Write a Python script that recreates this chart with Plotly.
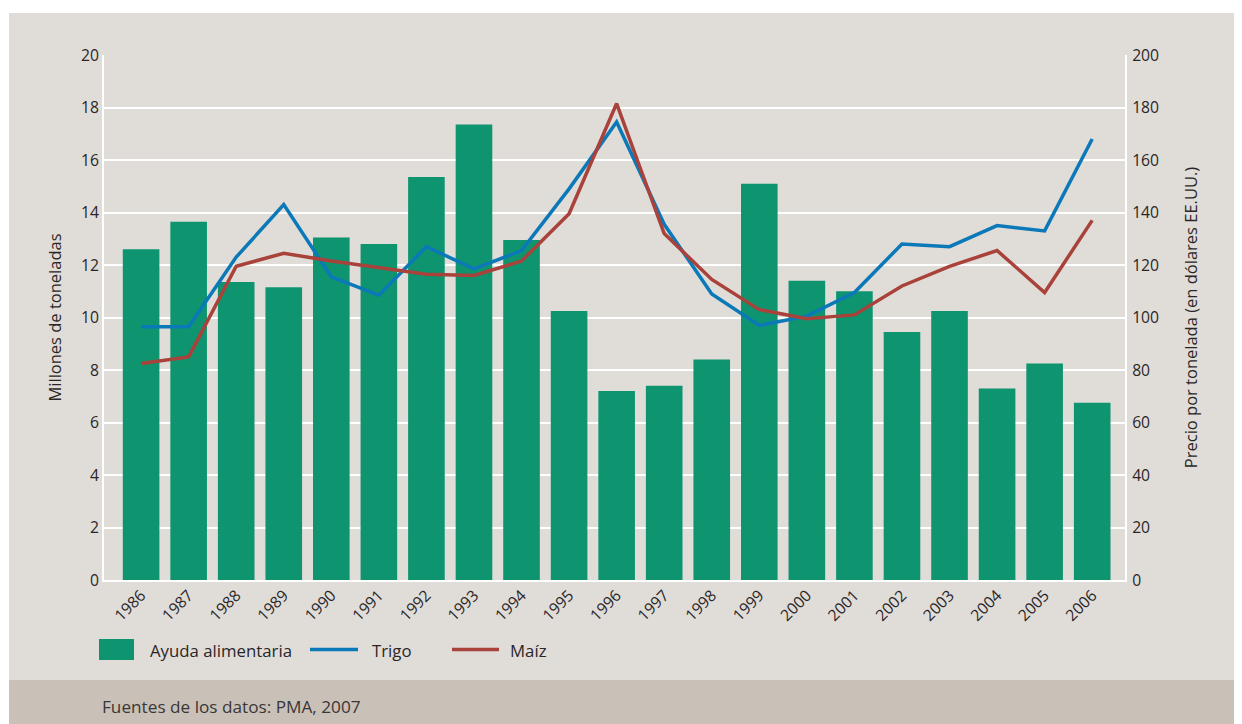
import plotly.graph_objects as go

years = [str(y) for y in range(1986, 2007)]
ayuda = [12.6, 13.65, 11.35, 11.15, 13.05, 12.8, 15.35, 17.35, 12.95, 10.25,
         7.2, 7.4, 8.4, 15.1, 11.4, 11.0, 9.45, 10.25, 7.3, 8.25, 6.75]
trigo = [96.5, 96.5, 123, 143, 115.5, 108.5, 127, 118.5, 125.5, 149,
         174.5, 135.5, 109, 97, 100.5, 109.5, 128, 127, 135, 133, 168]
maiz = [82.5, 85, 119.5, 124.5, 121.5, 119, 116.5, 116, 121.5, 139.5,
        181.5, 132, 114.5, 103, 99.5, 101, 112, 119.5, 125.5, 109.5, 137]
left_ticks = list(range(0, 21, 2))
right_ticks = list(range(0, 201, 20))

GREEN = "#0f9470"
BLUE = "#0b78b8"
RED = "#a8423a"
BG = "#e0ddd9"
STRIP = "#c9c1b7"
TXT = "#2a2627"
FONT = "Open Sans"

# page has an 8px body margin; all screen targets are offset by it
OFF = 8
W, H = 1242 - OFF, 724 - OFF
L, R, T, B = 104 - OFF, 1125 - OFF, 55 - OFF, 580 - OFF


def px(x):
    return (x - OFF - L) / (R - L)


def py(y):
    return (B - (y - OFF)) / (B - T)


fig = go.Figure()
fig.add_trace(go.Bar(x=years, y=ayuda, name="Ayuda alimentaria",
                     marker=dict(color=GREEN, line=dict(width=0)),
                     showlegend=False))
fig.add_trace(go.Scatter(x=years, y=trigo, name="Trigo", mode="lines",
                         line=dict(color=BLUE, width=3.5), yaxis="y2",
                         showlegend=False))
fig.add_trace(go.Scatter(x=years, y=maiz, name="Maíz", mode="lines",
                         line=dict(color=RED, width=3.5), yaxis="y2",
                         showlegend=False))

shapes = [
    dict(type="rect", xref="paper", yref="paper", layer="below",
         x0=px(9), x1=px(1250), y0=py(680), y1=py(13),
         fillcolor=BG, line=dict(width=0)),
    dict(type="rect", xref="paper", yref="paper", layer="below",
         x0=px(9), x1=px(1250), y0=py(735), y1=py(680),
         fillcolor=STRIP, line=dict(width=0)),
    # legend keys
    dict(type="rect", xref="paper", yref="paper",
         x0=px(99), x1=px(134), y0=py(660), y1=py(639),
         fillcolor=GREEN, line=dict(width=0)),
    dict(type="line", xref="paper", yref="paper",
         x0=px(310), x1=px(358), y0=py(649.5), y1=py(649.5),
         line=dict(color=BLUE, width=3.5)),
    dict(type="line", xref="paper", yref="paper",
         x0=px(452), x1=px(499), y0=py(649.5), y1=py(649.5),
         line=dict(color=RED, width=3.5)),
]

annotations = [
    dict(text="Ayuda alimentaria", x=px(148), y=py(650), xref="paper", yref="paper",
         xanchor="left", yanchor="middle", showarrow=False,
         font=dict(family=FONT, size=16.8, color=TXT)),
    dict(text="Trigo", x=px(370), y=py(650), xref="paper", yref="paper",
         xanchor="left", yanchor="middle", showarrow=False,
         font=dict(family=FONT, size=16.8, color=TXT)),
    dict(text="Maíz", x=px(508), y=py(650), xref="paper", yref="paper",
         xanchor="left", yanchor="middle", showarrow=False,
         font=dict(family=FONT, size=16.8, color=TXT)),
    dict(text="Fuentes de los datos: PMA, 2007", x=px(100), y=py(706),
         xref="paper", yref="paper", xanchor="left", yanchor="middle",
         showarrow=False, font=dict(family=FONT, size=17.2, color="#3a3637")),
]

fig.update_layout(
    width=W, height=H,
    margin=dict(l=L, r=W - R, t=T, b=H - B, pad=0),
    paper_bgcolor="white",
    plot_bgcolor=BG,
    font=dict(family=FONT, size=15.7, color=TXT),
    bargap=0.23,
    showlegend=False,
    shapes=shapes,
    annotations=annotations,
    xaxis=dict(type="category", range=[-0.78, 20.69],
               tickangle=-45, showgrid=False, zeroline=False,
               showline=True, linecolor="white", linewidth=2,
               ticks="", ticklabelstandoff=-2,
               tickfont=dict(size=15.7, color=TXT)),
    yaxis=dict(range=[0, 20], tickvals=left_ticks,
               showgrid=True, gridcolor="white", gridwidth=2,
               zeroline=False, showline=True, linecolor="white", linewidth=2,
               ticks="", ticklabelstandoff=0,
               title=dict(text="Millones de toneladas", standoff=15,
                          font=dict(size=16.5, color=TXT))),
    yaxis2=dict(range=[0, 200], tickvals=right_ticks, overlaying="y",
                side="right", showgrid=False, zeroline=False,
                showline=True, linecolor="white", linewidth=2,
                ticks="", ticklabelstandoff=2,
                title=dict(text="Precio por tonelada (en dólares EE.UU.)",
                           standoff=27, font=dict(size=16.5, color=TXT))),
)

fig.write_html("out.html")
